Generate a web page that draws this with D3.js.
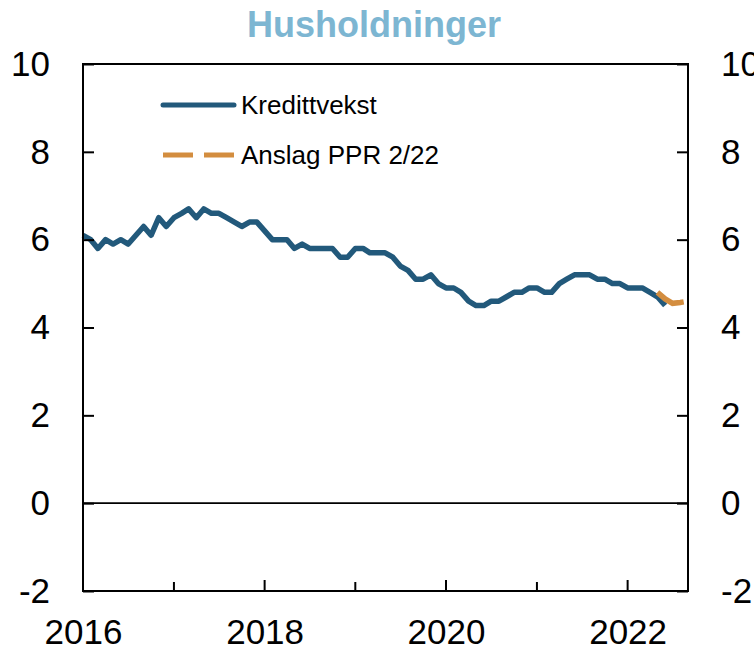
<!DOCTYPE html>
<html>
<head>
<meta charset="utf-8">
<script src="https://cdn.jsdelivr.net/npm/d3@7"></script>
<style>
  body { margin: 0; background: #fff; }
  svg { display: block; font-family: "Liberation Sans", Arial, sans-serif; }
</style>
</head>
<body>
<div id="chart"></div>
<script>
'use strict';

// kredittvekst husholdninger, tolvmånedersvekst, månedlig fra jan 2016
var startMonth = '2016-01';
var kredittvekst = [
    6.1, 6.0, 5.8, 6.0, 5.9, 6.0, 5.9, 6.1, 6.3, 6.1, 6.5, 6.3,
    6.5, 6.6, 6.7, 6.5, 6.7, 6.6, 6.6, 6.5, 6.4, 6.3, 6.4, 6.4,
    6.2, 6.0, 6.0, 6.0, 5.8, 5.9, 5.8, 5.8, 5.8, 5.8, 5.6, 5.6,
    5.8, 5.8, 5.7, 5.7, 5.7, 5.6, 5.4, 5.3, 5.1, 5.1, 5.2, 5.0,
    4.9, 4.9, 4.8, 4.6, 4.5, 4.5, 4.6, 4.6, 4.7, 4.8, 4.8, 4.9,
    4.9, 4.8, 4.8, 5.0, 5.1, 5.2, 5.2, 5.2, 5.1, 5.1, 5.0, 5.0,
    4.9, 4.9, 4.9, 4.8, 4.7, 4.5
];
// anslag PPR 2/22, starter mai 2022
var anslagStart = '2022-05';
var anslag = [4.8, 4.65, 4.55, 4.57, 4.6];

var yTicks = [-2, 0, 2, 4, 6, 8, 10];
var yearTicks = [2017, 2018, 2019, 2020, 2021, 2022];
var yearLabels = [2016, 2018, 2020, 2022];
var legendNames = ['Kredittvekst', 'Anslag PPR 2/22'];
var title = 'Husholdninger';

function creditChart(){
    var scope = {};
    var exports = {};

    scope.cw = 754;
    scope.ch = 652;
    scope.margins = {top: 64, bottom: 61, left: 83, right: 66};
    scope.blue = '#22597b';
    scope.orange = '#d38d3f';
    scope.xScale = undefined;
    scope.yScale = undefined;

    scope.toSeries = function(start, values)
    {
        var t0 = d3.timeParse('%Y-%m')(start);
        return values.map(function(v, i){ return {date: d3.timeMonth.offset(t0, i), value: v}; });
    }

    scope.appendSvg = function(div)
    {
        return d3.select(div).append('svg')
            .attr('width', scope.cw)
            .attr('height', scope.ch);
    }

    scope.createScales = function()
    {
        scope.xScale = d3.scaleTime()
            .domain([new Date(2016, 0, 1), new Date(2022, 8, 1)])
            .range([scope.margins.left, scope.cw - scope.margins.right]);
        scope.yScale = d3.scaleLinear()
            .domain([-2, 10])
            .range([scope.ch - scope.margins.bottom, scope.margins.top]);
    }

    scope.styleAxis = function(g)
    {
        g.select('.domain').remove();
        g.selectAll('line').attr('stroke', '#000').attr('stroke-width', 2);
        g.selectAll('text')
            .attr('font-family', '"Liberation Sans", Arial, sans-serif')
            .attr('font-size', 35)
            .attr('fill', '#000');
    }

    // vanlig bindestrek som minustegn, som i originalen
    scope.fmt = function(d){ return String(d); }

    scope.appendAxes = function(svg)
    {
        var x0 = scope.xScale.range()[0], x1 = scope.xScale.range()[1];
        var y0 = scope.yScale.range()[0], y1 = scope.yScale.range()[1];

        var left = svg.append('g')
            .attr('transform', 'translate(' + x0 + ',0)')
            .call(d3.axisLeft(scope.yScale).tickValues(yTicks).tickFormat(scope.fmt)
                .tickSizeInner(-11).tickSizeOuter(0).tickPadding(33));
        scope.styleAxis(left);

        var right = svg.append('g')
            .attr('transform', 'translate(' + x1 + ',0)')
            .call(d3.axisRight(scope.yScale).tickValues(yTicks).tickFormat(scope.fmt)
                .tickSizeInner(-11).tickSizeOuter(0).tickPadding(33));
        scope.styleAxis(right);

        // korte årsstreker, lengre på år med etikett
        svg.append('g').selectAll('line')
            .data(yearTicks)
            .enter().append('line')
            .attr('x1', function(d){ return scope.xScale(new Date(d, 0, 1)); })
            .attr('x2', function(d){ return scope.xScale(new Date(d, 0, 1)); })
            .attr('y1', y0)
            .attr('y2', function(d){ return y0 - (d % 2 === 0 ? 11 : 9); })
            .attr('stroke', '#000')
            .attr('stroke-width', 2);

        var bottom = svg.append('g')
            .attr('transform', 'translate(0,' + y0 + ')')
            .call(d3.axisBottom(scope.xScale)
                .tickValues(yearLabels.map(function(d){ return new Date(d, 0, 1); }))
                .tickFormat(d3.timeFormat('%Y'))
                .tickSize(0).tickPadding(28));
        scope.styleAxis(bottom);

        // ramme
        svg.append('rect')
            .attr('x', x0).attr('y', y1)
            .attr('width', x1 - x0).attr('height', y0 - y1)
            .attr('fill', 'none')
            .attr('stroke', '#000')
            .attr('stroke-width', 2);

        svg.append('line')
            .attr('x1', x0).attr('x2', x1)
            .attr('y1', scope.yScale(0)).attr('y2', scope.yScale(0))
            .attr('stroke', '#000')
            .attr('stroke-width', 1.6);
    }

    scope.appendLines = function(svg)
    {
        var line = d3.line()
            .x(function(d){ return scope.xScale(d.date); })
            .y(function(d){ return scope.yScale(d.value); });

        svg.append('path')
            .datum(scope.toSeries(startMonth, kredittvekst))
            .attr('d', line)
            .attr('fill', 'none')
            .attr('stroke', scope.blue)
            .attr('stroke-width', 5.5)
            .attr('stroke-linejoin', 'round');

        svg.append('path')
            .datum(scope.toSeries(anslagStart, anslag))
            .attr('d', line)
            .attr('fill', 'none')
            .attr('stroke', scope.orange)
            .attr('stroke-width', 5.5)
            .attr('stroke-dasharray', '30,11');
    }

    scope.appendLegend = function(svg)
    {
        var legend = svg.append('g')
            .selectAll('g')
            .data(legendNames)
            .enter().append('g')
            .attr('transform', function(d, i){ return 'translate(163,' + (105 + i * 50) + ')'; });

        legend.append('line')
            .attr('x1', 0).attr('x2', 71)
            .attr('stroke', function(d, i){ return i === 0 ? scope.blue : scope.orange; })
            .attr('stroke-width', 5)
            .attr('stroke-linecap', function(d, i){ return i === 0 ? 'round' : 'butt'; })
            .attr('stroke-dasharray', function(d, i){ return i === 0 ? null : '30,11'; });

        legend.append('text')
            .attr('x', 78)
            .attr('dy', '0.35em')
            .attr('font-size', 26)
            .attr('fill', '#000')
            .text(function(d){ return d; });
    }

    scope.appendTitle = function(svg)
    {
        svg.append('text')
            .attr('x', 374)
            .attr('y', 37)
            .attr('text-anchor', 'middle')
            .attr('font-size', 36)
            .attr('font-weight', 'bold')
            .attr('fill', '#7db6d2')
            .text(title);
    }

    exports.run = function(div)
    {
        var svg = scope.appendSvg(div);
        scope.createScales();
        scope.appendTitle(svg);
        scope.appendLines(svg);
        scope.appendAxes(svg);
        scope.appendLegend(svg);
    }
    return exports;
}

creditChart().run('#chart');
</script>
</body>
</html>
